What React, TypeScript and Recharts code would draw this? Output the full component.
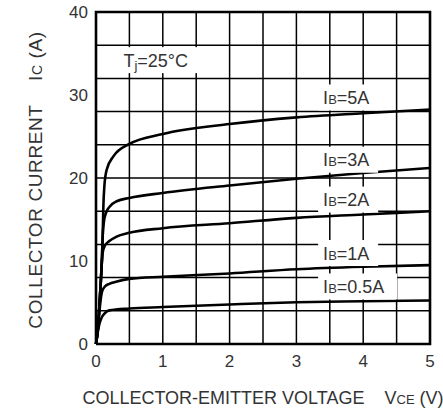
import React from "react";
import { LineChart, Line, XAxis, YAxis, ReferenceDot, CartesianGrid } from "recharts";

const xTicks = [0, 1, 2, 3, 4, 5];
const yTicks = [0, 10, 20, 30, 40];
const gridX = [0.5, 1, 1.5, 2, 2.5, 3, 3.5, 4, 4.5];
const gridY = [4, 8, 12, 16, 20, 24, 28, 32, 36];
const frame = [[0, 0], [5, 0], [5, 40], [0, 40], [0, 0]];

const ib05: [number, number][] = [[0,0],[0.03,1.6],[0.05,2.4],[0.08,3.1],[0.13,3.7],[0.2,4.05],[0.5,4.28],[1,4.45],[2,4.76],[3,5.03],[4,5.15],[5,5.24]];
const ib1: [number, number][] = [[0,0],[0.03,2],[0.05,3.8],[0.065,5.0],[0.09,6.3],[0.13,6.9],[0.2,7.25],[0.3,7.5],[0.5,7.85],[1,8.1],[2,8.5],[3,9.0],[4,9.3],[5,9.5]];
const ib2: [number, number][] = [[0,0],[0.03,2],[0.05,4.5],[0.07,7.2],[0.085,9.5],[0.1,11],[0.13,11.8],[0.2,12.4],[0.3,12.9],[0.5,13.4],[1,13.95],[2,14.55],[3,15.2],[4,15.6],[5,16.0]];
const ib3: [number, number][] = [[0,0],[0.03,2],[0.05,4.5],[0.07,7.2],[0.09,10.5],[0.1,13],[0.12,14.8],[0.15,15.8],[0.21,16.6],[0.31,17.2],[0.5,17.6],[1,18.2],[2,19.1],[3,19.9],[4,20.6],[5,21.2]];
const ib5: [number, number][] = [[0,0],[0.03,2],[0.05,4.5],[0.07,7.2],[0.09,10.5],[0.1,13],[0.11,16.5],[0.125,19.0],[0.16,21.0],[0.26,22.6],[0.5,24.1],[1,25.3],[2,26.5],[3,27.3],[4,27.8],[5,28.25]];

const series = [ib05, ib1, ib2, ib3, ib5];

type Ann = { x: number; y: number; main: string; sub: string; rest: string; subLow: boolean; w: number };
const annotations: Ann[] = [
  { x: 0.41, y: 34.2, main: "T", sub: "j", rest: "=25°C", subLow: true, w: 80 },
  { x: 3.4, y: 29.7, main: "I", sub: "B", rest: "=5A", subLow: false, w: 60 },
  { x: 3.4, y: 22.2, main: "I", sub: "B", rest: "=3A", subLow: false, w: 60 },
  { x: 3.4, y: 17.4, main: "I", sub: "B", rest: "=2A", subLow: false, w: 60 },
  { x: 3.4, y: 10.96, main: "I", sub: "B", rest: "=1A", subLow: false, w: 60 },
  { x: 3.4, y: 6.93, main: "I", sub: "B", rest: "=0.5A", subLow: false, w: 79 },
];

const FONT = "'Liberation Sans', Arial, sans-serif";
const TXT = "#333";

const toObj = (arr: number[][]) => arr.map(([v, i]) => ({ v, i }));

const AnnShape = (a: Ann) => (props: any) => {
  const { cx, cy } = props;
  return (
    <g>
      <rect x={cx - 5} y={cy - 13} width={a.w} height={26} fill="#fff" />
      <text x={cx} y={cy} dy="0.36em" fontFamily={FONT} fontSize={18} fill={TXT}>
        {a.main}
        <tspan fontSize={13} dy={a.subLow ? 3 : 0}>{a.sub}</tspan>
        <tspan dy={a.subLow ? -3 : 0}>{a.rest}</tspan>
      </text>
    </g>
  );
};

const XTitle = (props: any) => {
  const { viewBox } = props;
  const cx = viewBox.x + viewBox.width / 2;
  return (
    <text x={cx} y={404} textAnchor="middle" fontFamily={FONT} fontSize={18} fill={TXT}>
      COLLECTOR-EMITTER VOLTAGE{"\u00A0\u00A0\u00A0\u00A0"}V<tspan fontSize={13}>CE</tspan> (V)
    </text>
  );
};

const YTitle = () => {
  const cy = 180;
  return (
    <text x={42} y={cy} transform={`rotate(-90, 42, ${cy})`} textAnchor="middle" fontFamily={FONT} fontSize={19} letterSpacing={0.6} fill={TXT}>
      COLLECTOR CURRENT{"\u00A0\u00A0\u00A0\u00A0"}I<tspan fontSize={14}>C</tspan> (A)
    </text>
  );
};

export default function App() {
  return (
    <div style={{ position: "absolute", left: 0, top: 0, background: "#fff" }}>
      <LineChart width={443} height={413} margin={{ top: 12, right: 13, left: 0, bottom: 0 }}>
        <CartesianGrid
          horizontalValues={gridY}
          verticalValues={gridX}
          stroke="#000"
          strokeOpacity={1}
          strokeWidth={1.5}
        />
        <XAxis
          type="number"
          dataKey="v"
          domain={[0, 5]}
          ticks={xTicks}
          axisLine={false}
          tickLine={false}
          tickSize={0}
          tickMargin={11}
          height={69}
          tick={{ fontFamily: FONT, fontSize: 17, fill: TXT }}
          label={{ content: XTitle }}
        />
        <YAxis
          type="number"
          dataKey="i"
          domain={[0, 40]}
          ticks={yTicks}
          axisLine={false}
          tickLine={false}
          tickSize={0}
          tickMargin={8}
          width={96}
          tick={{ fontFamily: FONT, fontSize: 17, fill: TXT }}
          label={{ content: YTitle }}
        />
        {series.map((s, k) => (
          <Line
            key={"s" + k}
            data={toObj(s)}
            dataKey="i"
            type="monotone"
            stroke="#000"
            strokeWidth={2.6}
            dot={false}
            activeDot={false}
            isAnimationActive={false}
          />
        ))}
        <Line data={toObj(frame)} dataKey="i" type="linear" stroke="#000" strokeWidth={2.6} dot={false} activeDot={false} isAnimationActive={false} />
        {annotations.map((a, k) => (
          <ReferenceDot key={"a" + k} x={a.x} y={a.y} r={0} shape={AnnShape(a)} />
        ))}
      </LineChart>
    </div>
  );
}
